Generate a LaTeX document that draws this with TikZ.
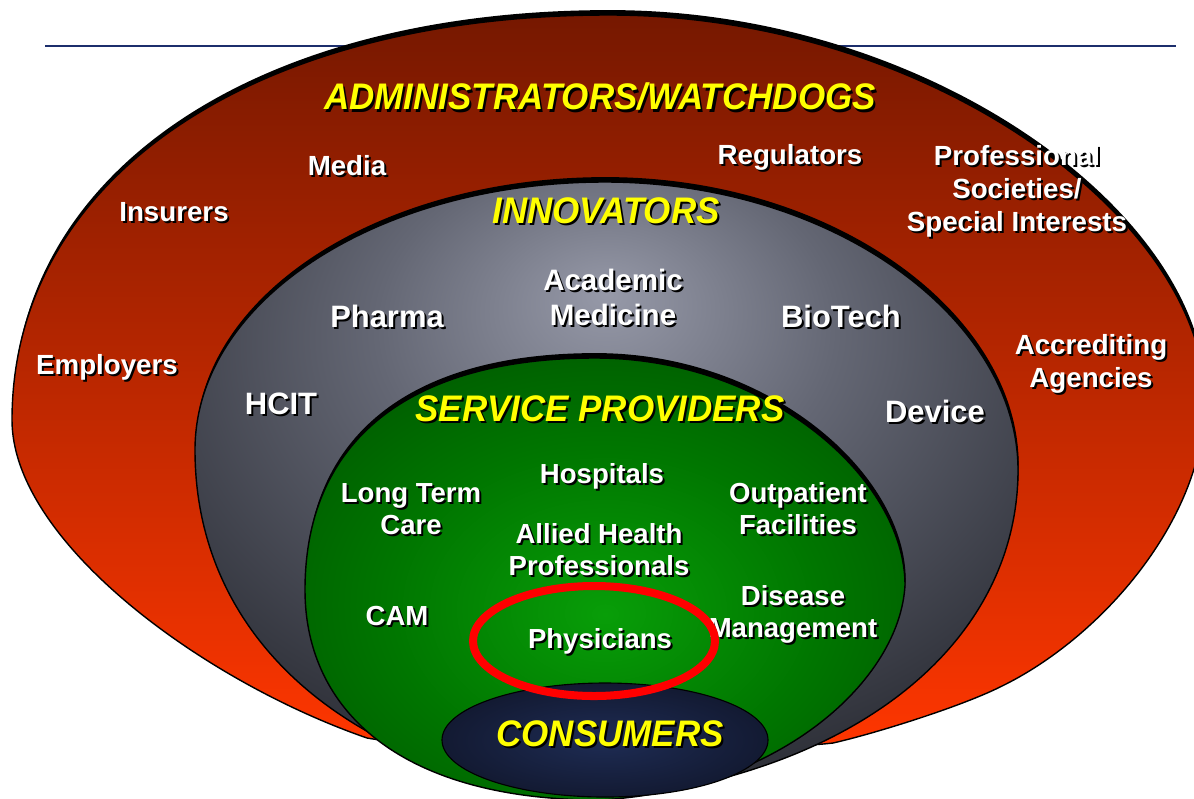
\documentclass[tikz,border=0pt]{standalone}
\usepackage{fontspec}
\setmainfont{Liberation Sans}
\newfontfamily\headfont[FakeStretch=0.945]{Liberation Sans}
\usetikzlibrary{shadows}

\definecolor{rulenavy}{RGB}{28,46,108}
\definecolor{admtop}{RGB}{118,24,0}
\definecolor{admbottom}{RGB}{255,54,0}
\definecolor{innglow}{RGB}{150,153,168}
\definecolor{innmid}{RGB}{100,103,116}
\definecolor{inndark}{RGB}{44,46,54}
\definecolor{srvglow}{RGB}{8,158,8}
\definecolor{srvmid}{RGB}{0,118,0}
\definecolor{srvdark}{RGB}{0,70,0}
\definecolor{conglow}{RGB}{30,44,84}
\definecolor{condark}{RGB}{12,15,30}
\definecolor{ringred}{RGB}{255,0,0}
\definecolor{headyellow}{RGB}{255,255,0}

\pgfdeclareradialshading{innshade}{\pgfpoint{0bp}{16bp}}{color(0bp)=(innglow); color(14bp)=(innmid); color(34bp)=(inndark); color(80bp)=(inndark)}
\pgfdeclareradialshading{srvshade}{\pgfpoint{0bp}{-4bp}}{color(0bp)=(srvglow); color(18bp)=(srvmid); color(42bp)=(srvdark); color(80bp)=(srvdark)}
\pgfdeclareradialshading{conshade}{\pgfpoint{0bp}{0bp}}{color(0bp)=(conglow); color(40bp)=(condark); color(80bp)=(condark)}

% text with a black drop shadow
\newcommand{\shtext}[2][1.4pt]{\makebox[0pt][l]{\kern#1\raisebox{-#1}{\textcolor{black}{#2}}}#2}

\tikzset{
  layer/.style={draw=black, line width=1pt,
    drop shadow={shadow xshift=0.5pt, shadow yshift=3.5pt, opacity=1, fill=black}},
  head/.style={text=headyellow, inner sep=0pt,
    font=\headfont\bfseries\itshape\fontsize{26.3}{30}\selectfont},
  lblred/.style={text=white, align=center, inner sep=0pt,
    font=\bfseries\fontsize{19.7}{23.5}\selectfont},
  lblgray/.style={text=white, align=center, inner sep=0pt,
    font=\bfseries\fontsize{22}{25}\selectfont},
  lblgreen/.style={text=white, align=center, inner sep=0pt,
    font=\bfseries\fontsize{19.6}{22.8}\selectfont},
}

\begin{document}
\begin{tikzpicture}[x=0.025cm, y=-0.025cm]
  \useasboundingbox (0,0) rectangle (1194,798);
  \clip (0,0) rectangle (1194,798);

  % title rule
  \coordinate (ruleL) at (45,46);
  \coordinate (ruleR) at (1176,46);
  \draw[rulenavy, line width=2.1pt] (ruleL) -- (ruleR);

  % administrators / watchdogs
  \shade[layer, top color=admtop, bottom color=admbottom]
    (609,15) .. controls (250,15) and (12,180) .. (12,420)
    .. controls (12,540) and (200,680) .. (367,738)
    .. controls (400,744) and (500,750) .. (600,750)
    .. controls (680,750) and (790,748) .. (833,743)
    .. controls (873,734) and (960,707) .. (1000,687)
    .. controls (1100,639) and (1205,520) .. (1205,400)
    .. controls (1205,220) and (930,15) .. (609,15) -- cycle;

  % innovators
  \shade[layer, shading=innshade]
    (605,182) .. controls (379,182) and (195,300) .. (195,450)
    .. controls (195,640) and (350,775) .. (600,800)
    .. controls (860,775) and (1018,640) .. (1018,470)
    .. controls (1018,320) and (835,182) .. (605,182) -- cycle;

  % service providers
  \shade[layer, shading=srvshade]
    (595,358) .. controls (410,358) and (305,440) .. (305,590)
    .. controls (305,710) and (400,800) .. (600,800)
    .. controls (780,790) and (900,680) .. (905,585)
    .. controls (905,480) and (770,358) .. (595,358) -- cycle;

  % consumers
  \shade[draw=black, line width=0.8pt, shading=conshade]
    (605,740) ellipse [x radius=163, y radius=57];

  % headings
  \node[head] (adm) at (600,98) {\shtext[1.5pt]{ADMINISTRATORS/WATCHDOGS}};
  \node[head] (inn) at (606,212) {\shtext[1.5pt]{INNOVATORS}};
  \node[head] (srv) at (600,410) {\shtext[1.5pt]{SERVICE PROVIDERS}};
  \node[head] (con) at (610,735) {\shtext[1.5pt]{CONSUMERS}};

  % outer ring
  \node[lblred] (media) at (347,167) {\shtext{Media}};
  \node[lblred] (regulators) at (790,158) {\shtext{Regulators}};
  \node[lblred] (societies) at (1017,192) {\shtext{Professional}\\\shtext{Societies/}\\\shtext{Special Interests}};
  \node[lblred] (insurers) at (174,213) {\shtext{Insurers}};
  \node[lblred] (employers) at (107,368) {\shtext{Employers}};
  \node[lblred] (accrediting) at (1091,365) {\shtext{Accrediting}\\\shtext{Agencies}};

  % middle ring
  \node[lblgray] (pharma) at (387,317) {\shtext{Pharma}};
  \node[lblgray, font=\bfseries\fontsize{21}{24.9}\selectfont] (academic) at (613,298) {\shtext{Academic}\\\shtext{Medicine}};
  \node[lblgray] (biotech) at (841,317) {\shtext{BioTech}};
  \node[lblgray] (hcit) at (281,405) {\shtext{HCIT}};
  \node[lblgray] (device) at (935,412) {\shtext{Device}};

  % inner ring
  \node[lblgreen] (longterm) at (411,510) {\shtext{Long Term}\\\shtext{Care}};
  \node[lblgreen] (hospitals) at (602,477) {\shtext{Hospitals}};
  \node[lblgreen] (outpatient) at (798,510) {\shtext{Outpatient}\\\shtext{Facilities}};
  \node[lblgreen] (allied) at (599,551) {\shtext{Allied Health}\\\shtext{Professionals}};
  \node[lblgreen] (cam) at (397,617) {\shtext{CAM}};
  \node[lblgreen] (disease) at (793,615) {\shtext{Disease}\\\shtext{Management}};
  \node[lblgreen] (physicians) at (600,642) {\shtext{Physicians}};

  % highlight ring
  \draw[ringred, line width=5.7pt] (594,641) ellipse [x radius=121, y radius=55];
\end{tikzpicture}
\end{document}
